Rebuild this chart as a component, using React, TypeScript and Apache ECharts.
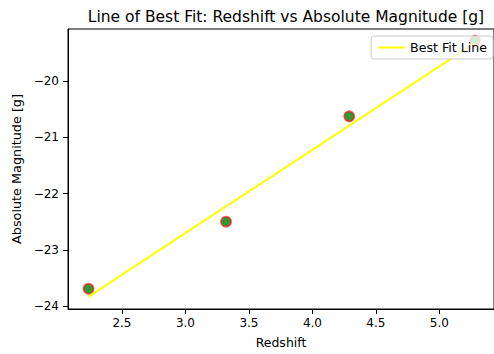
import React, { useEffect, useRef } from "react";
import * as echarts from "echarts";

const redshift = [2.237, 3.32, 4.29, 5.28];
const absMag = [-23.69, -22.5, -20.63, -19.29];
const fitX = [2.237, 5.28];
const fitY = [-23.83, -19.33];
const xTicks = [2.5, 3.0, 3.5, 4.0, 4.5, 5.0];
const yTicks = [-24, -23, -22, -21, -20];

const FONT = "DejaVu Sans";

export default function App() {
  const ref = useRef<HTMLDivElement>(null);
  useEffect(() => {
    if (!ref.current) return;
    const chart = echarts.init(ref.current, undefined, { renderer: "svg" });
    const fmtMinus = (v: number, d: number) => {
      const s = Math.abs(v).toFixed(d);
      return v < 0 ? "\u2212" + s : s;
    };
    chart.setOption({
      animation: false,
      textStyle: { fontFamily: FONT },
      title: {
        text: "Line of Best Fit: Redshift vs Absolute Magnitude [g]",
        left: 281,
        textAlign: "center",
        top: 4,
        textStyle: { fontFamily: FONT, fontSize: 15.5, fontWeight: "normal", color: "#000" },
      },
      legend: {
        data: [{ name: "Best Fit Line", icon: "rect" }],
        right: 1,
        top: 36,
        itemWidth: 27,
        itemHeight: 2,
        itemGap: 10,
        padding: [5, 6, 5, 7],
        backgroundColor: "rgba(255,255,255,0.8)",
        borderColor: "#cccccc",
        borderWidth: 1,
        borderRadius: 3,
        textStyle: { fontFamily: FONT, fontSize: 12.6, color: "#000" },
      },
      grid: {
        left: 68,
        top: 29,
        height: 283,
        right: -6,
        show: true,
        borderColor: "#000",
        borderWidth: 1,
        backgroundColor: "transparent",
      },
      xAxis: {
        type: "value",
        min: 2.075,
        max: 5.43,
        name: "Redshift",
        nameLocation: "middle",
        nameGap: 27,
        nameTextStyle: { fontFamily: FONT, fontSize: 12.5, color: "#000" },
        axisLine: { show: true, onZero: false, lineStyle: { color: "#000", width: 1 } },
        axisTick: { show: true, length: 5, customValues: xTicks, lineStyle: { color: "#000" } },
        axisLabel: {
          customValues: xTicks,
          fontFamily: FONT,
          fontSize: 12,
          color: "#000",
          margin: 8,
          formatter: (v: number) => fmtMinus(v, 1),
        },
        splitLine: { show: false },
      },
      yAxis: {
        type: "value",
        min: -24.05,
        max: -19.08,
        name: "Absolute Magnitude [g]",
        nameLocation: "middle",
        nameGap: 43,
        nameTextStyle: { fontFamily: FONT, fontSize: 12.8, color: "#000" },
        axisLine: { show: true, onZero: false, lineStyle: { color: "#000", width: 1 } },
        axisTick: { show: true, length: 5, customValues: yTicks, lineStyle: { color: "#000" } },
        axisLabel: {
          customValues: yTicks,
          fontFamily: FONT,
          fontSize: 12,
          color: "#000",
          margin: 9,
          formatter: (v: number) => fmtMinus(v, 0),
        },
        splitLine: { show: false },
      },
      series: [
        {
          type: "scatter",
          name: "points",
          data: redshift.map((x, i) => [x, absMag[i]]),
          symbol: "circle",
          symbolSize: 10,
          itemStyle: { color: "#008000", borderColor: "rgba(255,0,0,0.75)", borderWidth: 1.8 },
          z: 2,
        },
        {
          type: "line",
          name: "Best Fit Line",
          data: fitX.map((x, i) => [x, fitY[i]]),
          showSymbol: false,
          symbol: "none",
          lineStyle: { color: "#ffff00", width: 2 },
          itemStyle: { color: "#ffff00" },
          z: 3,
        },
      ],
    });
    return () => chart.dispose();
  }, []);
  return (
    <div
      ref={ref}
      style={{ position: "absolute", left: 0, top: 0, width: 494, height: 354, background: "#fff" }}
    />
  );
}
